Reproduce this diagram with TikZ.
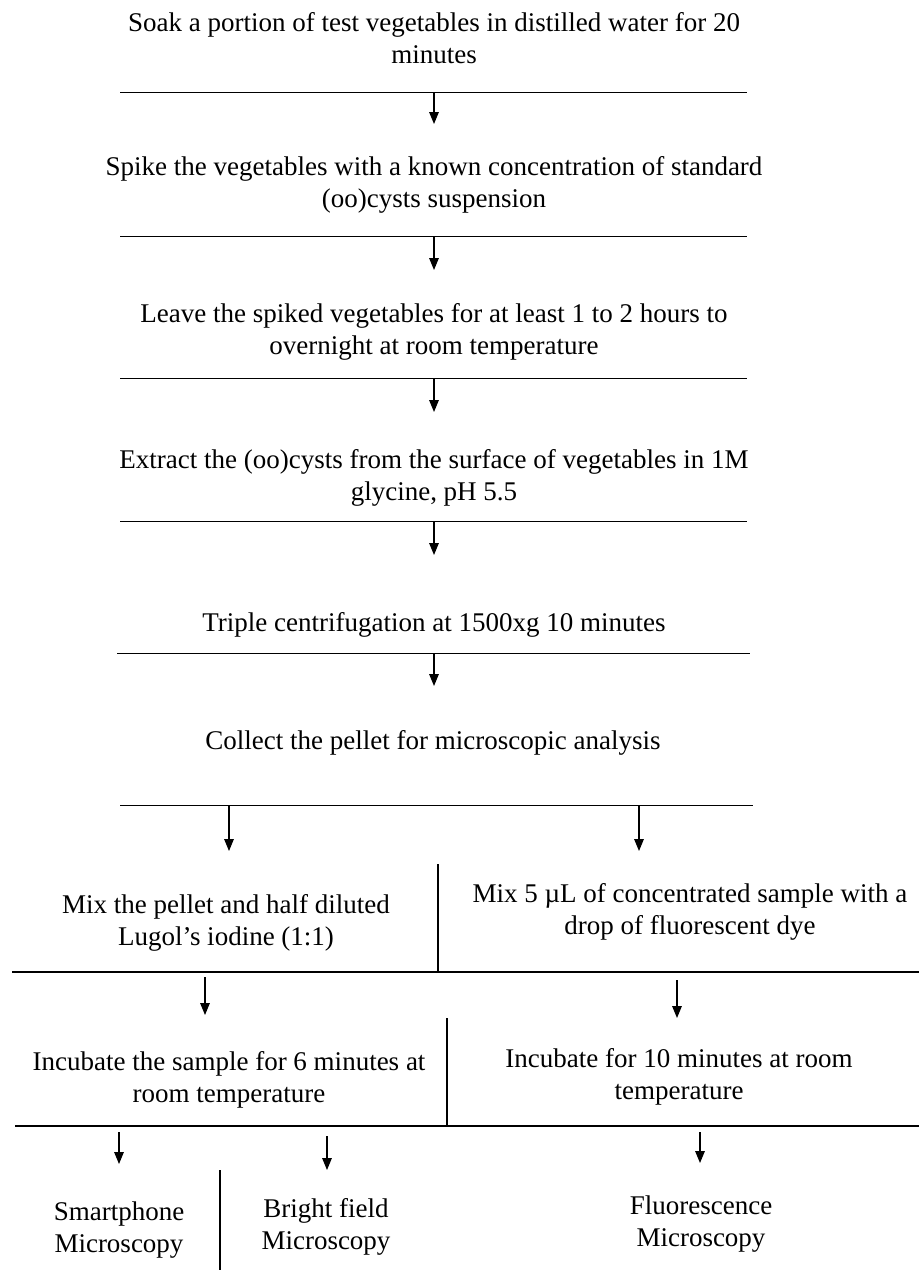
\documentclass[tikz,border=0pt]{standalone}
\usepackage{fontspec}
\setmainfont{Liberation Serif}
\usetikzlibrary{arrows.meta,positioning}
\tikzstyle{stepnode}=[align=center,inner sep=0pt,font=\fontsize{13.5}{16.3}\selectfont]
\tikzstyle{sepline}=[line width=0.5pt]
\tikzstyle{thicksep}=[line width=1.1pt]
\tikzstyle{flow}=[-{Triangle[length=6pt,width=4.8pt]},line width=0.6pt]

\begin{document}
\begin{tikzpicture}[x=0.5pt,y=-0.5pt]

  \useasboundingbox (0,0) rectangle (919,1270);

% main column
  \node[stepnode] (soak) at (434,38) {Soak a portion of test vegetables in distilled water for 20\\minutes};
  \node[stepnode] (spike) at (434,185) {Spike the vegetables with a known concentration of standard\\(oo)cysts suspension};
  \node[stepnode] (leave) at (434,332) {Leave the spiked vegetables for at least 1 to 2 hours to\\overnight at room temperature};
  \node[stepnode] (extract) at (434,478) {Extract the (oo)cysts from the surface of vegetables in 1M\\glycine, pH 5.5};
  \node[stepnode] (triple) at (434,625) {Triple centrifugation at 1500xg 10 minutes};
  \node[stepnode] (collect) at (433,743) {Collect the pellet for microscopic analysis};

% two branches
  \node[stepnode] (mixL) at (226,923) {Mix the pellet and half diluted\\Lugol’s iodine (1:1)};
  \node[stepnode] (mixR) at (690,912) {Mix 5 µL of concentrated sample with a\\drop of fluorescent dye};
  \node[stepnode] (incL) at (229,1080) {Incubate the sample for 6 minutes at\\room temperature};
  \node[stepnode] (incR) at (679,1077) {Incubate for 10 minutes at room\\temperature};

% microscopy
  \node[stepnode] (smart) at (119,1230) {Smartphone\\Microscopy};
  \node[stepnode] (bright) at (326,1227) {Bright field\\Microscopy};
  \node[stepnode] (fluo) at (701,1224) {Fluorescence\\Microscopy};

% separating lines
  \foreach \name/\xa/\xb/\y in {r1/120/747/92, r2/120/747/236, r3/120/747/378, r4/120/747/521, r5/117/750/653, r6/120/753/805}
  {
    \coordinate (\name a) at (\xa,\y);
    \coordinate (\name b) at (\xb,\y);
    \draw[sepline] (\name a) -- (\name b);
  }
  \foreach \name/\xa/\xb/\y in {r7/12/919/972, r8/15/919/1126}
  {
    \coordinate (\name a) at (\xa,\y);
    \coordinate (\name b) at (\xb,\y);
    \draw[thicksep] (\name a) -- (\name b);
  }

% dividers between columns
  \foreach \name/\x/\ya/\yb in {d1/438/864/972, d2/447/1018/1126, d3/220/1170/1270}
  {
    \coordinate (\name a) at (\x,\ya);
    \coordinate (\name b) at (\x,\yb);
    \draw[sepline,line width=0.6pt] (\name a) -- (\name b);
  }

% arrows
  \foreach \name/\x/\ya/\yb in {a1/434/92/124, a2/434/237/270, a3/434/379/412, a4/434/522/555, a5/434/654/686,
                                a6/229/805/851, a7/639/805/851, a8/205/977/1015, a9/677/980/1018,
                                a10/119/1132/1164, a11/327/1136/1170, a12/700/1132/1163}
  {
    \coordinate (\name s) at (\x,\ya);
    \coordinate (\name e) at (\x,\yb);
    \draw[flow] (\name s) -- (\name e);
  }

\end{tikzpicture}
\end{document}
